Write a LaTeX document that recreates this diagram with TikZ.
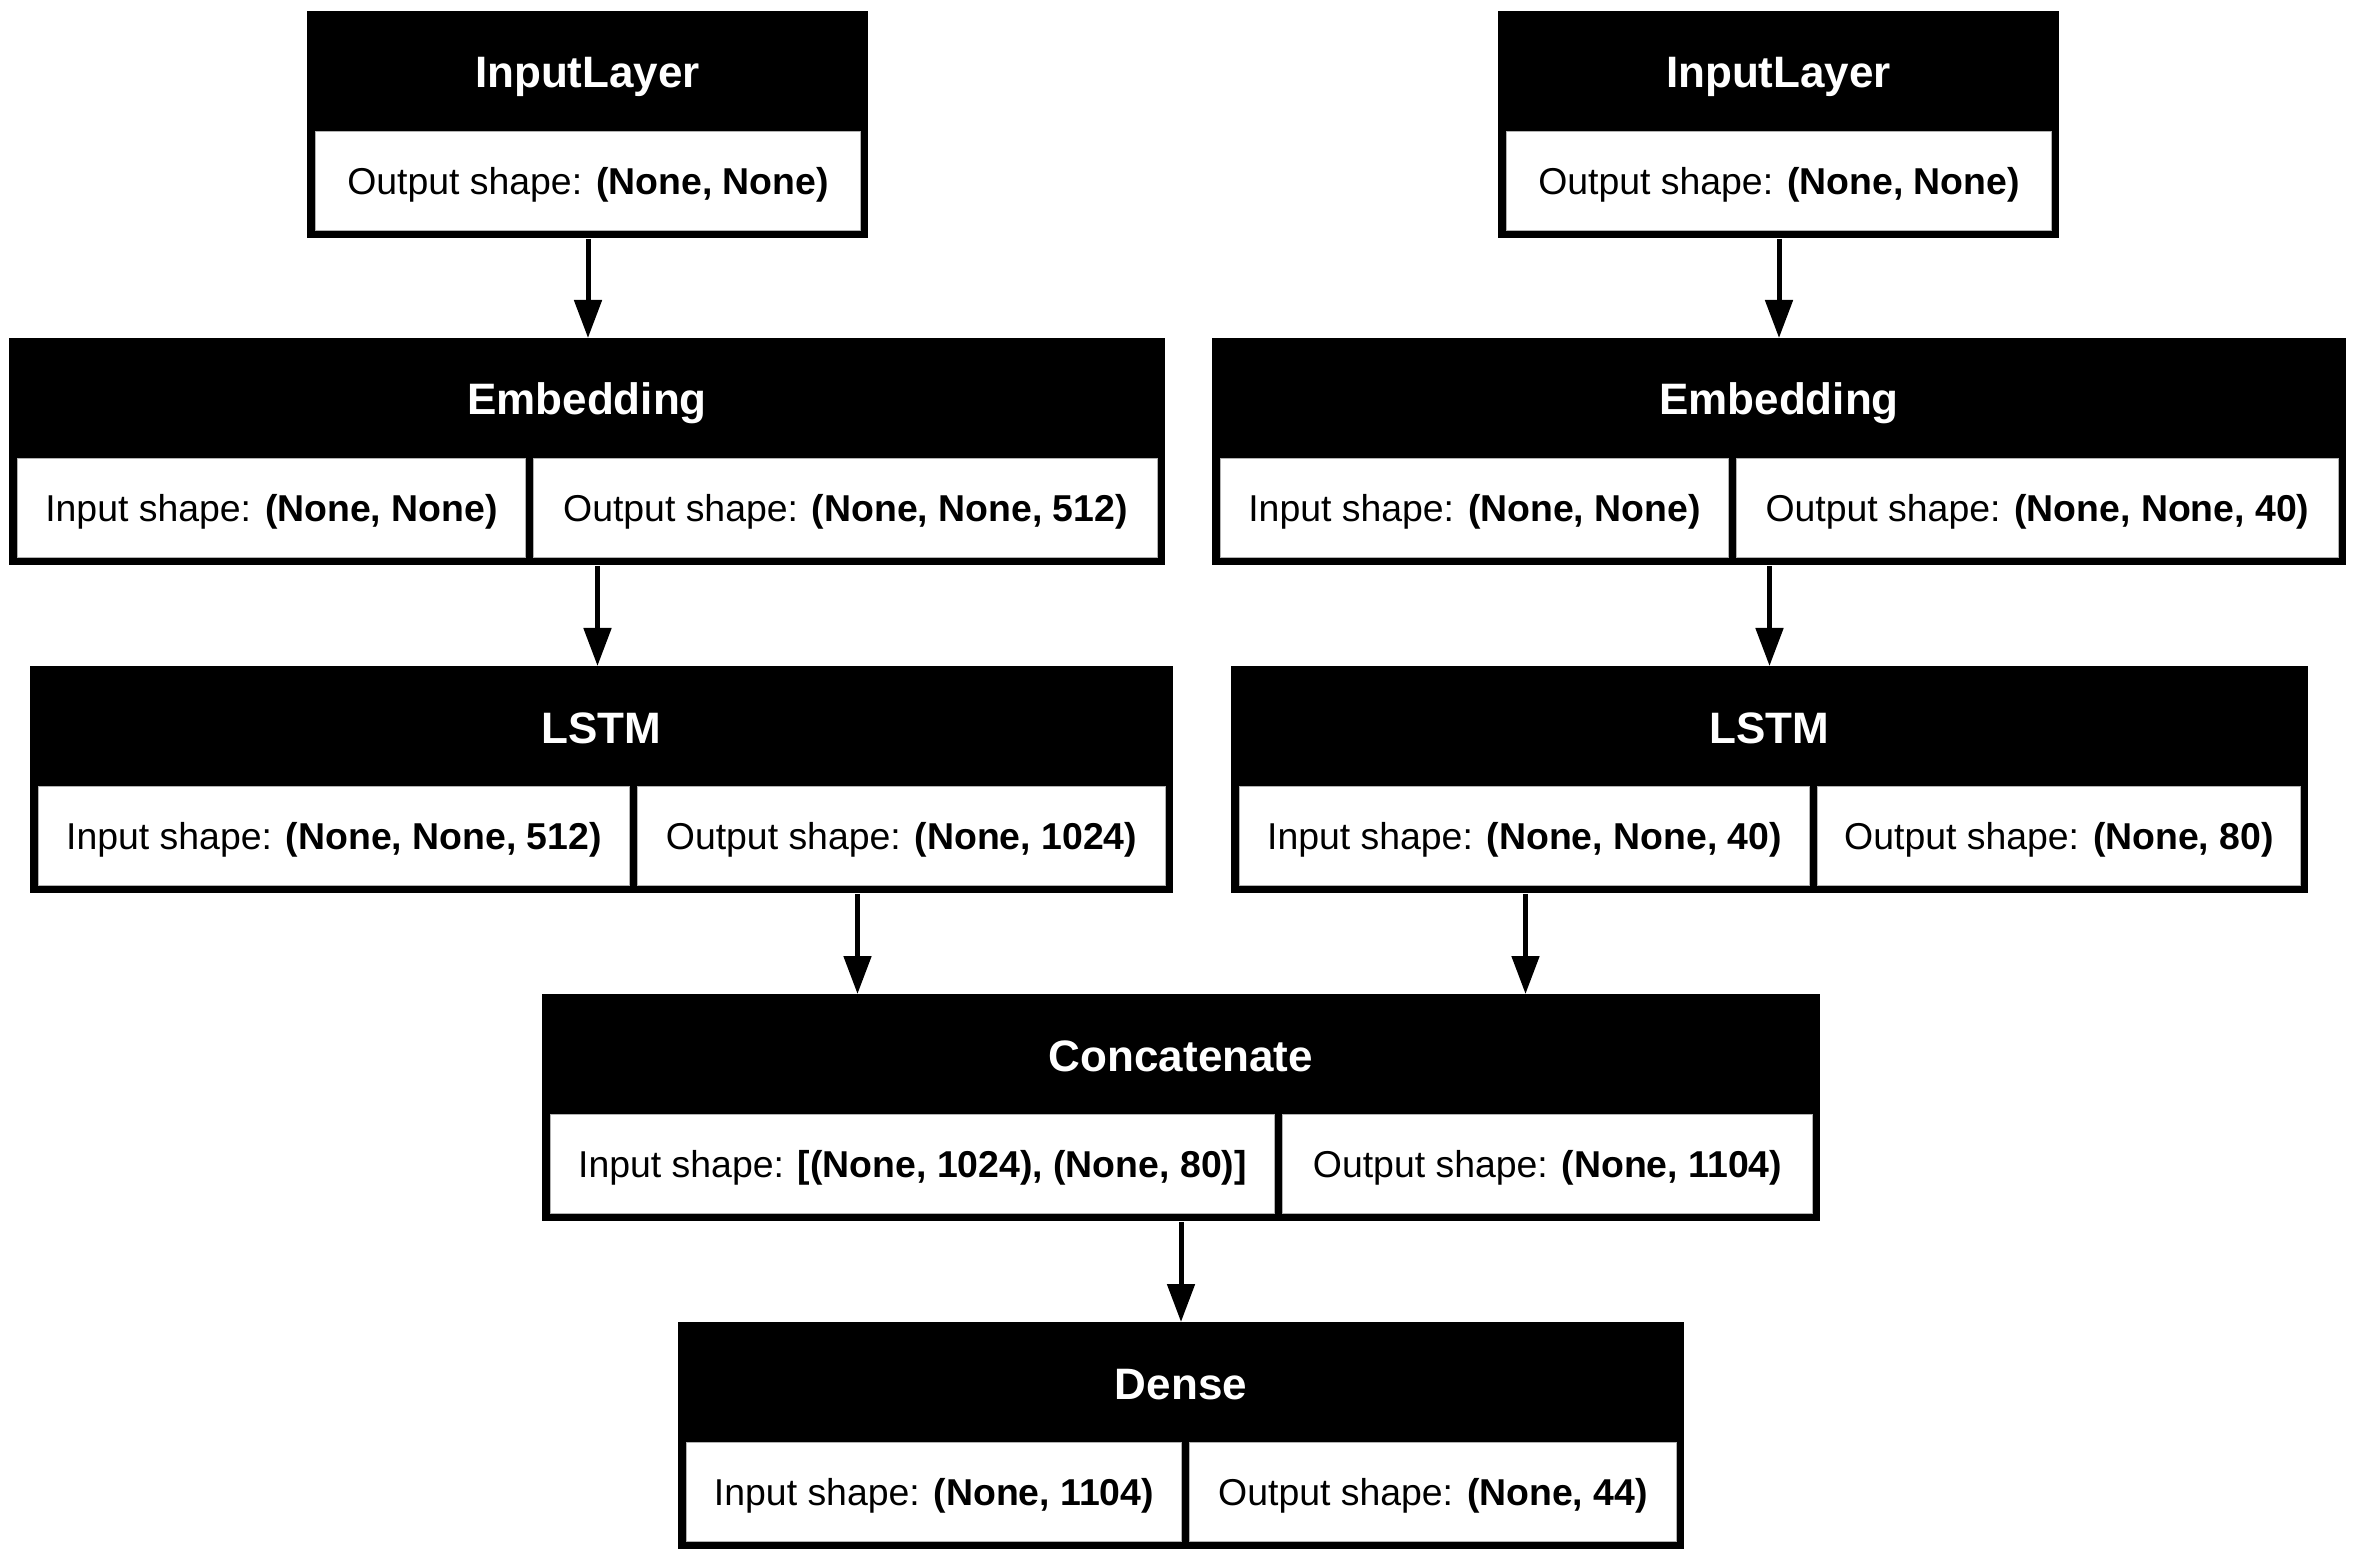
\documentclass[tikz,border=0pt]{standalone}
\usepackage{fontspec}
\setmainfont{Liberation Sans}
\usetikzlibrary{arrows.meta}
\begin{document}
\begin{tikzpicture}[x=0.5pt,y=-0.5pt,
  layer/.style={fill=black, inner sep=0pt, minimum height=113.5pt, anchor=north west},
  cell/.style={fill=white, draw=gray!60, line width=0.5pt, inner sep=0pt, text depth=0pt, minimum height=49.5pt, anchor=north west, font=\fontsize{18.7}{22}\selectfont},
  ttl/.style={text=white, font=\fontsize{22}{26}\selectfont\bfseries, inner sep=0pt, anchor=base},
  arr/.style={-{Triangle[length=19pt,width=13.5pt]}, line width=2.5pt}]
\useasboundingbox[fill=white] (0,0) rectangle (2356,1561);

% InputLayer left
\node[layer, minimum width=280.5pt] (inL) at (307,11) {};
\node[ttl] (inLt) at (587.5,88) {InputLayer};
\node[cell, minimum width=272.5pt] (inLc) at (315,131) {Output shape: \textbf{(None, None)}};

% InputLayer right
\node[layer, minimum width=280.5pt] (inR) at (1498,11) {};
\node[ttl] (inRt) at (1778.5,88) {InputLayer};
\node[cell, minimum width=272.5pt] (inRc) at (1506,131) {Output shape: \textbf{(None, None)}};

% Embedding left
\node[layer, minimum width=578pt] (embL) at (9,338) {};
\node[ttl] (embLt) at (587,415) {Embedding};
\node[cell, minimum width=254pt] (embLa) at (17,458) {Input shape: \textbf{(None, None)}};
\node[cell, minimum width=312pt] (embLb) at (533,458) {Output shape: \textbf{(None, None, 512)}};

% Embedding right
\node[layer, minimum width=567pt] (embR) at (1212,338) {};
\node[ttl] (embRt) at (1779,415) {Embedding};
\node[cell, minimum width=254pt] (embRa) at (1220,458) {Input shape: \textbf{(None, None)}};
\node[cell, minimum width=301pt] (embRb) at (1736,458) {Output shape: \textbf{(None, None, 40)}};

% LSTM left
\node[layer, minimum width=571.5pt] (lstmL) at (30,666) {};
\node[ttl] (lstmLt) at (601.5,743) {LSTM};
\node[cell, minimum width=295.5pt] (lstmLa) at (38,786) {Input shape: \textbf{(None, None, 512)}};
\node[cell, minimum width=264pt] (lstmLb) at (637,786) {Output shape: \textbf{(None, 1024)}};

% LSTM right
\node[layer, minimum width=538.5pt] (lstmR) at (1231,666) {};
\node[ttl] (lstmRt) at (1769.5,743) {LSTM};
\node[cell, minimum width=285pt] (lstmRa) at (1239,786) {Input shape: \textbf{(None, None, 40)}};
\node[cell, minimum width=241.5pt] (lstmRb) at (1817,786) {Output shape: \textbf{(None, 80)}};

% Concatenate
\node[layer, minimum width=639pt] (cat) at (542,994) {};
\node[ttl] (catt) at (1181,1071) {Concatenate};
\node[cell, minimum width=362pt] (cata) at (550,1114) {Input shape: \textbf{[(None, 1024), (None, 80)]}};
\node[cell, minimum width=265pt] (catb) at (1282,1114) {Output shape: \textbf{(None, 1104)}};

% Dense
\node[layer, minimum width=503pt] (dense) at (678,1322) {};
\node[ttl] (denset) at (1181,1399) {Dense};
\node[cell, minimum width=247.5pt] (densea) at (686,1442) {Input shape: \textbf{(None, 1104)}};
\node[cell, minimum width=243.5pt] (denseb) at (1189,1442) {Output shape: \textbf{(None, 44)}};

% connector x positions
\coordinate (x1) at (588,0);
\coordinate (x2) at (1779,0);
\coordinate (x3) at (597.5,0);
\coordinate (x4) at (1769.5,0);
\coordinate (x5) at (857.5,0);
\coordinate (x6) at (1525.5,0);
\coordinate (x7) at (1181,0);

\draw[arr] (inL.south -| x1) -- (embL.north -| x1);
\draw[arr] (inR.south -| x2) -- (embR.north -| x2);
\draw[arr] (embL.south -| x3) -- (lstmL.north -| x3);
\draw[arr] (embR.south -| x4) -- (lstmR.north -| x4);
\draw[arr] (lstmL.south -| x5) -- (cat.north -| x5);
\draw[arr] (lstmR.south -| x6) -- (cat.north -| x6);
\draw[arr] (cat.south -| x7) -- (dense.north -| x7);
\end{tikzpicture}
\end{document}
